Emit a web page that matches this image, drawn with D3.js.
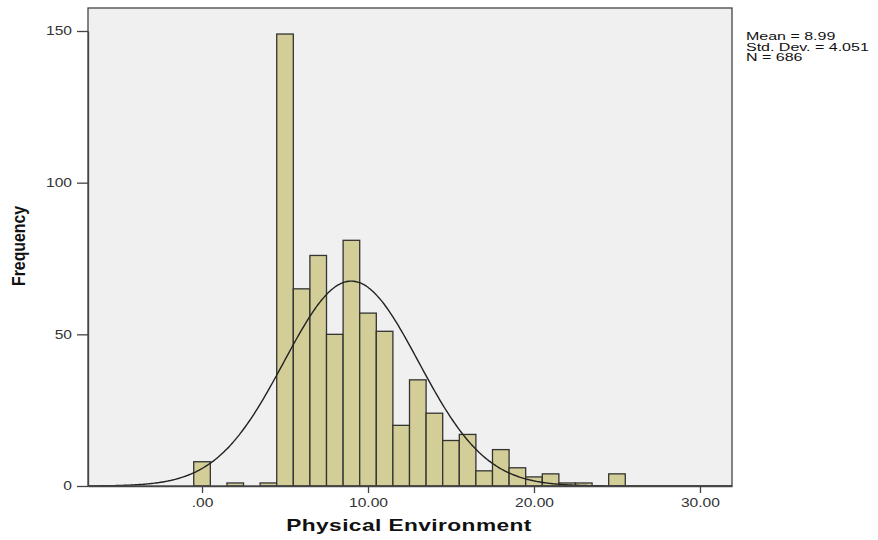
<!DOCTYPE html>
<html><head><meta charset="utf-8">
<script src="https://cdn.jsdelivr.net/npm/d3@7"></script>
<style>body{margin:0;background:#fff}svg{display:block;font-family:"Liberation Sans",Arial,sans-serif}</style>
</head><body><svg id="c" width="878" height="540"></svg>
<script>
const binCenters = [0,2,4,5,6,7,8,9,10,11,12,13,14,15,16,17,18,19,20,21,22,23,25];
const frequencies = [8,1,1,149,65,76,50,81,57,51,20,35,24,15,17,5,12,6,3,4,1,1,4];
const xTicks = [0,10,20,30];
const xTickLabels = [".00","10.00","20.00","30.00"];
const yTicks = [0,50,100,150];
const binWidth = 1;
const stats = {mean: 8.99, sd: 4.051, n: 686};
const statLines = ["Mean = 8.99","Std. Dev. = 4.051","N = 686"];

const SX = 1.3; // horizontal text stretch of the reference rendering
const svg = d3.select("#c");
const L=88, R=732, T=8, B=486;
const x = d3.scaleLinear().domain([-6.87, 31.93]).range([L, R]);
const y = d3.scaleLinear().domain([0, 150]).range([B, B-455]);

svg.append("rect").attr("x",L).attr("y",T).attr("width",R-L).attr("height",B-T)
  .attr("fill","#f0f0f0");

svg.append("g").selectAll("rect.bar").data(binCenters).enter().append("rect")
  .attr("class","bar")
  .attr("x",(d)=>x(d-binWidth/2))
  .attr("width",(d)=>x(d+binWidth/2)-x(d-binWidth/2))
  .attr("y",(d,i)=>y(frequencies[i]))
  .attr("height",(d,i)=>B-y(frequencies[i]))
  .attr("fill","#d3ce97").attr("stroke","#333").attr("stroke-width",1.3);

// fitted normal curve from the stated mean / sd / N
const xs = d3.range(x.domain()[0], x.domain()[1]+0.001, 0.1);
const pdf = v => stats.n*binWidth/(stats.sd*Math.sqrt(2*Math.PI))*Math.exp(-0.5*((v-stats.mean)/stats.sd)**2);
svg.append("path").datum(xs)
  .attr("d", d3.line().x(v=>x(v)).y(v=>y(pdf(v))).curve(d3.curveBasis))
  .attr("fill","none").attr("stroke","#222").attr("stroke-width",1.4);

svg.append("rect").attr("x",L).attr("y",T).attr("width",R-L).attr("height",B-T)
  .attr("fill","none").attr("stroke","#444").attr("stroke-width",1.3);

const yAxis = d3.axisLeft(y).tickValues(yTicks).tickSizeInner(11).tickSizeOuter(0).tickPadding(4);
const ya = svg.append("g").attr("transform",`translate(${L},0)`).call(yAxis);
const xAxis = d3.axisBottom(x).tickValues(xTicks).tickSizeInner(7).tickSizeOuter(0).tickPadding(5)
  .tickFormat((d,i)=>xTickLabels[i]);
const xa = svg.append("g").attr("transform",`translate(0,${B})`).call(xAxis);
[ya,xa].forEach(a=>{
  a.select(".domain").attr("stroke","#444").attr("stroke-width",1.3);
  a.selectAll(".tick line").attr("stroke","#444").attr("stroke-width",1.3);
  a.selectAll("text").attr("fill","#333").style("font-size","12px").style("font-family","Liberation Sans, Arial, sans-serif");
});
xa.selectAll("text").attr("transform",`scale(${SX},1)`);
ya.selectAll("text").attr("x",-16/SX).attr("transform",`scale(${SX},1)`);

svg.append("g").attr("transform",`translate(409,531) scale(1.42,1)`)
  .append("text").attr("text-anchor","middle")
  .style("font-size","16px").style("font-weight","bold").style("letter-spacing","0.3px")
  .attr("fill","#111").text("Physical Environment");
svg.append("g").attr("transform","translate(25,246) rotate(-90) scale(1,1.3)")
  .append("text").attr("text-anchor","middle")
  .style("font-size","14px").style("font-weight","bold").attr("fill","#111")
  .attr("textLength",80).attr("lengthAdjust","spacingAndGlyphs").text("Frequency");

svg.append("g").selectAll("g").data(statLines).enter().append("g")
  .attr("transform",(d,i)=>`translate(746,${40+i*10.7}) scale(1.6,1)`)
  .append("text").style("font-size","10px").attr("fill","#111").text(d=>d);
</script></body></html>
